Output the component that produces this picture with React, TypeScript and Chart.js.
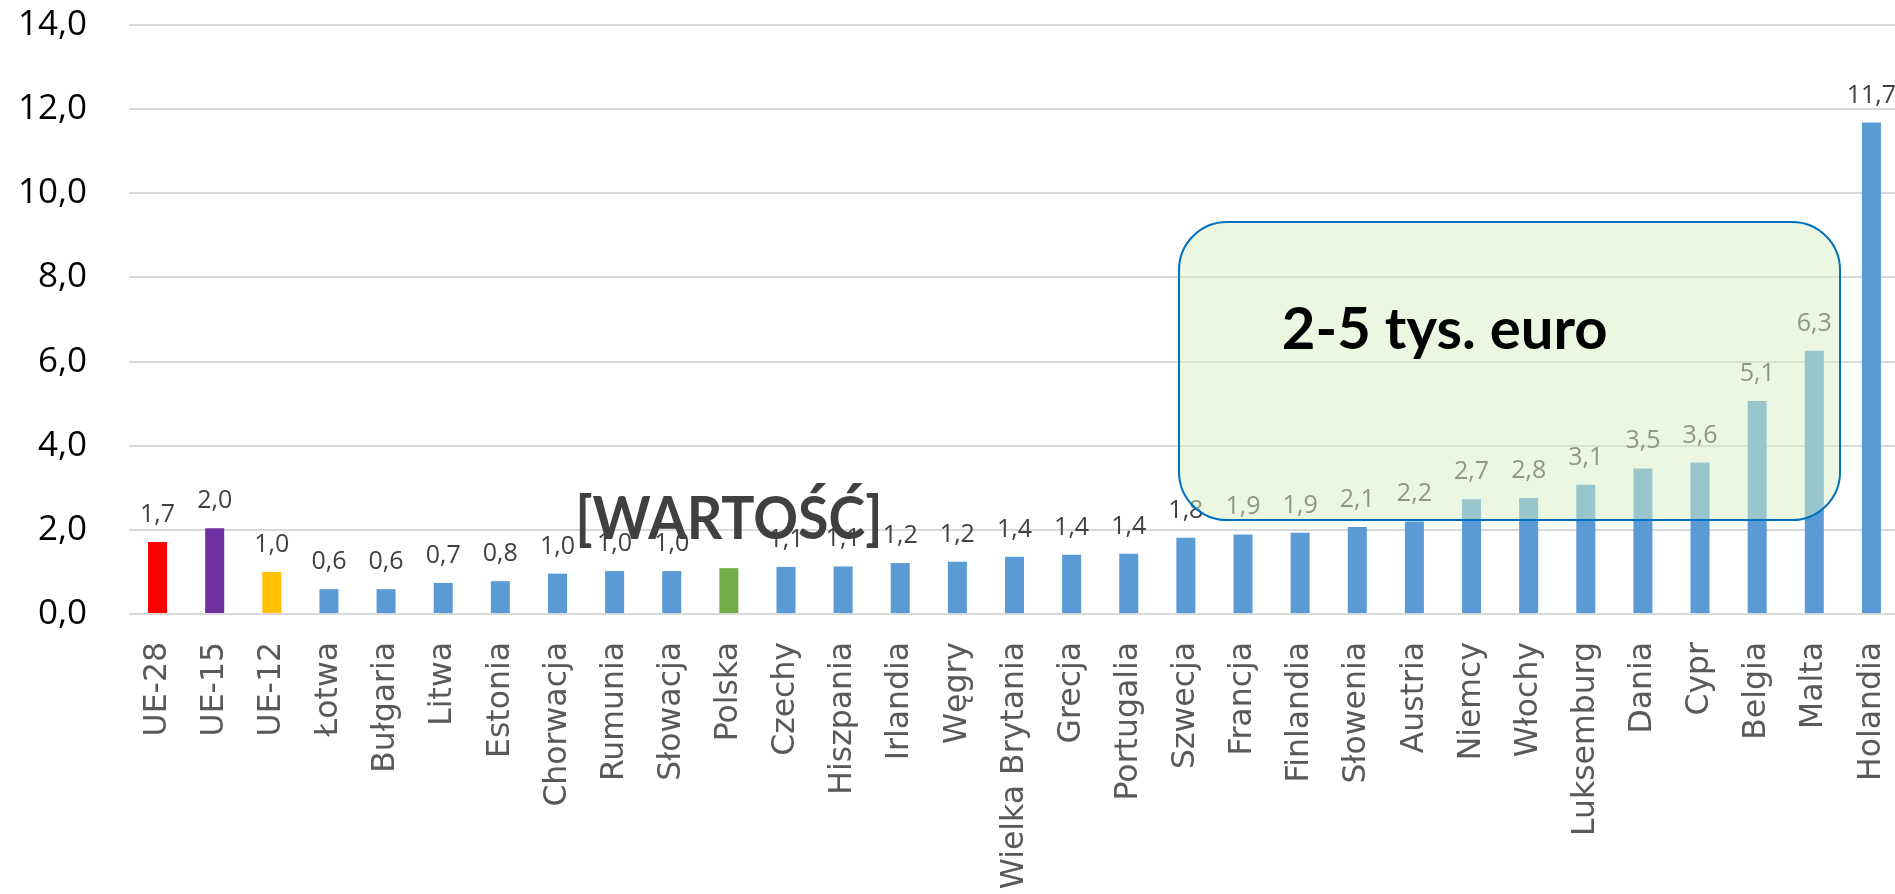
import React, { useEffect, useRef } from "react";
import { Chart, registerables } from "chart.js";

Chart.register(...registerables);

// ---- data ----
const categories = [
  "UE-28", "UE-15", "UE-12", "Łotwa", "Bułgaria", "Litwa", "Estonia", "Chorwacja",
  "Rumunia", "Słowacja", "Polska", "Czechy", "Hiszpania", "Irlandia", "Węgry",
  "Wielka Brytania", "Grecja", "Portugalia", "Szwecja", "Francja", "Finlandia",
  "Słowenia", "Austria", "Niemcy", "Włochy", "Luksemburg", "Dania", "Cypr",
  "Belgia", "Malta", "Holandia",
];
const values = [
  1.71, 2.04, 1.0, 0.59, 0.59, 0.74, 0.78, 0.96,
  1.02, 1.02, 1.09, 1.12, 1.13, 1.21, 1.24,
  1.36, 1.41, 1.43, 1.81, 1.89, 1.93,
  2.07, 2.2, 2.73, 2.76, 3.07, 3.46, 3.6,
  5.06, 6.26, 11.68,
];
const yTickStep = 2;
const yMax = 14;
const placeholderCategory = "Polska";
const placeholderLabel = "[WARTOŚĆ]";
const rangeLabel = "2-5 tys. euro";

// ---- styles ----
const defaultBarColor = "#5B9BD5";
const highlightColors: Record<string, string> = {
  "UE-28": "#FF0000",
  "UE-15": "#7030A0",
  "UE-12": "#FFC000",
  "Polska": "#70AD47",
};
// range box in data coordinates (category index / value)
const boxX0 = 17.88, boxX1 = 29.45, boxY0 = 2.234, boxY1 = 9.32;
const textX = 19.68, textY = 6.3;

const fmt = (v: number) => v.toFixed(1).replace(".", ",");

const overlayPlugin = {
  id: "overlayPlugin",
  afterDatasetsDraw(chart: any) {
    const ctx = chart.ctx as CanvasRenderingContext2D;
    const meta = chart.getDatasetMeta(0);
    const xs = chart.scales.x;
    const ys = chart.scales.y;
    ctx.save();
    ctx.textAlign = "center";
    ctx.textBaseline = "alphabetic";
    meta.data.forEach((bar: any, i: number) => {
      const { x, y } = bar.getProps(["x", "y"], true);
      if (categories[i] === placeholderCategory) {
        ctx.save();
        ctx.font = "bold 59px Lato";
        ctx.fillStyle = "#404040";
        ctx.translate(x, y - 29);
        ctx.scale(0.94, 1);
        ctx.fillText(placeholderLabel, 0, 0);
        ctx.restore();
      } else {
        ctx.font = "25px 'Open Sans'";
        ctx.fillStyle = "#404040";
        ctx.fillText(fmt(values[i]), x, y - 20);
      }
    });

    // range box
    const l = xs.getPixelForValue(boxX0);
    const r = xs.getPixelForValue(boxX1);
    const t = ys.getPixelForValue(boxY1);
    const b = ys.getPixelForValue(boxY0);
    ctx.beginPath();
    (ctx as any).roundRect(l, t, r - l, b - t, 48);
    ctx.fillStyle = "rgba(215,239,196,0.5)";
    ctx.fill();
    ctx.lineWidth = 2;
    ctx.strokeStyle = "#0070C0";
    ctx.stroke();

    ctx.font = "bold 58px Lato";
    ctx.fillStyle = "#000000";
    ctx.textAlign = "left";
    ctx.fillText(rangeLabel, xs.getPixelForValue(textX), ys.getPixelForValue(textY));
    ctx.restore();
  },
};

export default function App() {
  const canvasRef = useRef<HTMLCanvasElement | null>(null);

  useEffect(() => {
    if (!canvasRef.current) return;
    const chart = new Chart(canvasRef.current, {
      type: "bar",
      data: {
        labels: categories,
        datasets: [
          {
            data: values,
            backgroundColor: categories.map((c) => highlightColors[c] ?? defaultBarColor),
            borderWidth: 0,
            barPercentage: 0.333,
            categoryPercentage: 1.0,
          },
        ],
      },
      options: {
        responsive: false,
        animation: false,
        devicePixelRatio: 1,
        layout: { padding: { top: 25, left: 0, right: 0, bottom: 0 } },
        plugins: {
          legend: { display: false },
          tooltip: { enabled: false },
        },
        scales: {
          x: {
            grid: { display: false, drawTicks: false },
            border: { display: false },
            ticks: {
              autoSkip: false,
              minRotation: 90,
              maxRotation: 90,
              padding: 28,
              color: "#595959",
              font: { family: "DejaVu Sans", size: 31.5 },
            },
            afterFit(s: any) {
              s.height = 280;
              s.paddingLeft = 0;
              s.paddingRight = 0;
            },
          },
          y: {
            min: 0,
            max: yMax,
            ticks: {
              stepSize: yTickStep,
              padding: 42,
              color: "#000000",
              font: { family: "Open Sans", size: 35 },
              callback: (v: any) => fmt(Number(v)),
            },
            grid: { color: "#d9d9d9", lineWidth: 2, drawTicks: false },
            border: { display: false },
            afterFit(s: any) {
              s.width = 129;
              s.paddingTop = 0;
              s.paddingBottom = 0;
            },
          },
        },
      },
      plugins: [overlayPlugin],
    });
    return () => chart.destroy();
  }, []);

  return (
    <div
      style={{
        position: "fixed",
        left: 0,
        top: 0,
        width: 1895,
        height: 894,
        overflow: "hidden",
        background: "#fff",
      }}
    >
      <canvas ref={canvasRef} width={1900} height={894} style={{ display: "block" }} />
    </div>
  );
}
